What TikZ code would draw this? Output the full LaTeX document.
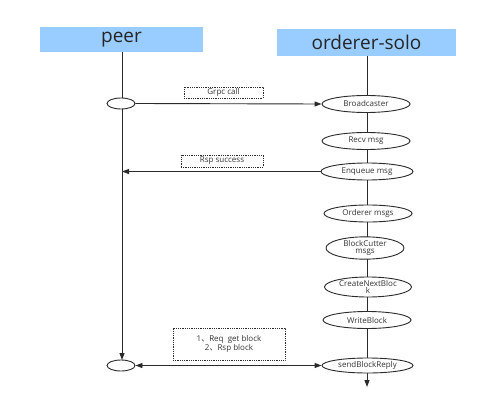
\documentclass[tikz,border=0pt]{standalone}
\usepackage{fontspec}
\setmainfont{Open Sans}
\newfontfamily\cjk{Noto Sans CJK SC}
\usetikzlibrary{shapes.geometric,arrows.meta}
\definecolor{hdr}{HTML}{99CCFF}
\definecolor{ln}{HTML}{2A2A2A}
\begin{document}
\begin{tikzpicture}[x=1pt,y=-1pt,
  header/.style={fill=hdr,draw=none,inner sep=0pt,font=\fontsize{19}{19}\selectfont,text=black!85},
  oval/.style={ellipse,draw=ln,fill=white,line width=0.9pt,inner sep=0pt,minimum width=88pt,minimum height=17pt,font=\fontsize{8}{8}\selectfont,text=black!80,align=center},
  smalloval/.style={ellipse,draw=ln,fill=white,line width=0.9pt,inner sep=0pt,minimum width=28pt,minimum height=11pt},
  note/.style={draw=ln,densely dotted,line width=0.8pt,inner sep=0pt,font=\fontsize{8}{9}\selectfont,text=black!80,align=center},
  life/.style={draw=ln,line width=1pt},
  arr/.style={-{Triangle[length=7pt,width=5pt]}},
  darr/.style={{Triangle[length=7pt,width=5pt]}-{Triangle[length=7pt,width=5pt]}}
]
\useasboundingbox (0,0) rectangle (478,406);
% headers
\node[header,minimum width=163pt,minimum height=25pt] (peer) at (121.5,39.5) {peer};
\node[header,minimum width=179pt,minimum height=27pt] (ord) at (366.5,42.5) {orderer-solo};
% lifelines
\coordinate (pend) at (122,360);
\coordinate (oend) at (367,387);
\draw[life] (peer.south -| 122,0) -- (122,98);
\draw[life,arr] (122,109) -- (pend);
\draw[life] (ord.south -| 367,0) -- (367,358);
\draw[life,arr] (367,373) -- (oend);
% orderer ovals
\node[oval] (bc) at (366,104) {Broadcaster};
\node[oval] (recv) at (366,141) {Recv msg};
\node[oval,minimum width=92pt] (enq) at (367,171.5) {Enqueue msg};
\node[oval] (om) at (368,213.5) {Orderer msgs};
\node[oval,minimum width=78pt,minimum height=20pt,font=\fontsize{8}{7.8}\selectfont] (bcut) at (365,248) {BlockCutter\\msgs};
\node[oval,minimum width=87pt,minimum height=20pt,font=\fontsize{8}{7.8}\selectfont] (cnb) at (368,287) {CreateNextBloc\\k};
\node[oval] (wb) at (367,320) {WriteBlock};
\node[oval,minimum width=91pt,minimum height=15pt] (sbr) at (367.5,365.5) {sendBlockReply};
% peer ovals
\node[smalloval] (p1) at (121,103.5) {};
\node[smalloval] (p2) at (121,365.5) {};
% messages
\draw[line width=0.9pt,draw=ln,arr] (p1.east) -- (bc.west);
\draw[line width=0.9pt,draw=ln,arr] (enq.west) -- (enq.west -| pend);
\draw[line width=0.9pt,draw=ln,darr] (p2.east) -- (sbr.west);
% notes
\node[note,minimum width=79pt,minimum height=11pt] (n1) at (223.5,92.5) {Grpc call};
\node[note,minimum width=82pt,minimum height=12pt] (n2) at (222,161) {Rsp success};
\node[note,minimum width=112pt,minimum height=32pt] (n3) at (229,344) {1{\cjk 、}Req\ \ get block\\2{\cjk 、}Rsp block};
\end{tikzpicture}
\end{document}
